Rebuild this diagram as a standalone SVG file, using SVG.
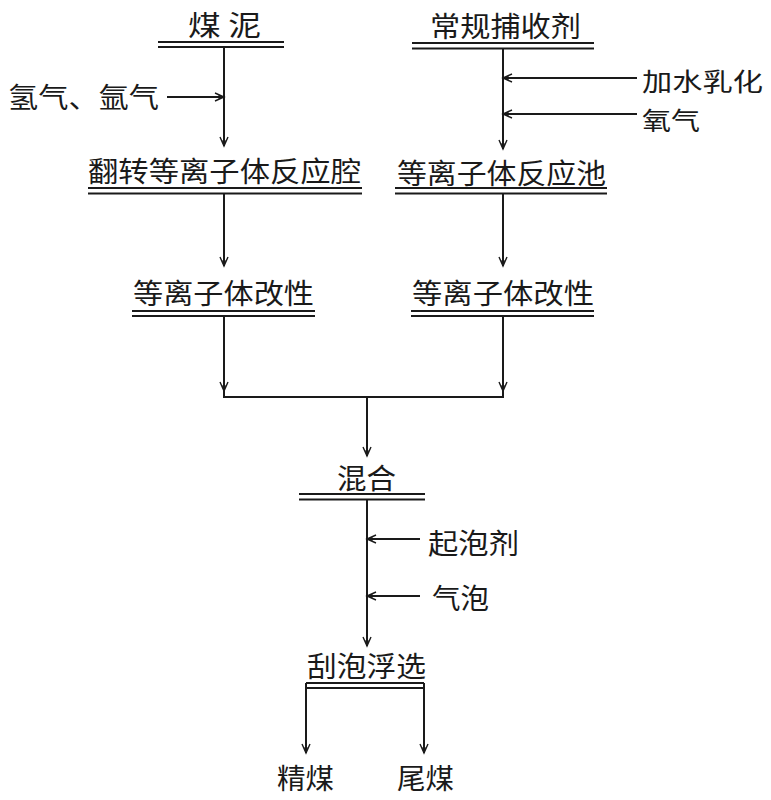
<svg xmlns="http://www.w3.org/2000/svg" width="771" height="800" viewBox="0 0 771 800">
<defs>
<marker id="arr" markerUnits="userSpaceOnUse" markerWidth="12" markerHeight="12" refX="10" refY="5" orient="auto" overflow="visible">
<path d="M1,1 L10,5 L1,9" fill="none" stroke="#1a1a1a" stroke-width="1.4"/>
<path d="M4.5,2.8 L10,5 L4.5,7.2 Z" fill="#1a1a1a"/>
</marker>
</defs>
<style>
text{font-family:"Noto Sans CJK SC","Noto Sans",sans-serif;font-size:28px;fill:#1a1a1a}
.s{font-size:25px}
.l{stroke:#1a1a1a;stroke-width:2;fill:none}
.a{stroke:#1a1a1a;stroke-width:2;fill:none;marker-end:url(#arr)}
</style>
<rect width="771" height="800" fill="#fff"/>

<g id="meini">
<text x="188" y="36" textLength="73" lengthAdjust="spacingAndGlyphs">煤 泥</text>
<path class="l" d="M158,42H284M158,47H284"/>
</g>
<g id="bushouji">
<text x="430" y="37" textLength="151" lengthAdjust="spacingAndGlyphs">常规捕收剂</text>
<path class="l" d="M412,43H594M412,48.5H594"/>
</g>
<g id="qingqi">
<text x="8" y="108" textLength="151" lengthAdjust="spacingAndGlyphs">氢气、氩气</text>
</g>
<g id="jiashui">
<text class="s" x="642" y="91" textLength="121" lengthAdjust="spacingAndGlyphs">加水乳化</text>
</g>
<g id="yangqi">
<text class="s" x="642" y="130" textLength="58" lengthAdjust="spacingAndGlyphs">氧气</text>
</g>
<g id="fanzhuan">
<text x="88" y="182" textLength="273" lengthAdjust="spacingAndGlyphs">翻转等离子体反应腔</text>
<path class="l" d="M88,188H362M88,193.5H362"/>
</g>
<g id="fanyingchi">
<text x="397" y="184" textLength="209" lengthAdjust="spacingAndGlyphs">等离子体反应池</text>
<path class="l" d="M395,188H607M395,193.5H607"/>
</g>
<g id="gaixing-left">
<text x="133" y="304" textLength="181" lengthAdjust="spacingAndGlyphs">等离子体改性</text>
<path class="l" d="M132,311H315M132,316H315"/>
</g>
<g id="gaixing-right">
<text x="412" y="304" textLength="182" lengthAdjust="spacingAndGlyphs">等离子体改性</text>
<path class="l" d="M411,311H594M411,316H594"/>
</g>
<g id="hunhe">
<text x="337" y="489" textLength="59" lengthAdjust="spacingAndGlyphs">混合</text>
<path class="l" d="M299,494H425M299,499.5H425"/>
</g>
<g id="qipaoji">
<text x="428" y="554" textLength="91" lengthAdjust="spacingAndGlyphs">起泡剂</text>
</g>
<g id="qipao">
<text x="432" y="609" textLength="57" lengthAdjust="spacingAndGlyphs">气泡</text>
</g>
<g id="guapao">
<text x="307" y="677" textLength="119" lengthAdjust="spacingAndGlyphs">刮泡浮选</text>
<path class="l" d="M306,683H424M306,688H424"/>
</g>
<g id="jingmei">
<text x="277" y="789" textLength="57" lengthAdjust="spacingAndGlyphs">精煤</text>
</g>
<g id="weimei">
<text x="397" y="789" textLength="57" lengthAdjust="spacingAndGlyphs">尾煤</text>
</g>

<g id="connectors">
<path class="a" d="M224,47V146"/>
<path class="a" d="M167,97H224"/>
<path class="a" d="M503,48.5V149"/>
<path class="a" d="M637,78H503"/>
<path class="a" d="M637,114H503"/>
<path class="a" d="M224,193.5V266"/>
<path class="a" d="M503,193.5V266"/>
<path class="a" d="M224,316V391"/>
<path class="a" d="M503,316V391"/>
<path class="l" d="M224,390V397H503V390"/>
<path class="a" d="M367,397V456"/>
<path class="a" d="M367,499.5V646"/>
<path class="a" d="M420,539H367"/>
<path class="a" d="M420,596H367"/>
<path class="a" d="M306,683V753"/>
<path class="a" d="M424,683V753"/>
</g>
</svg>
